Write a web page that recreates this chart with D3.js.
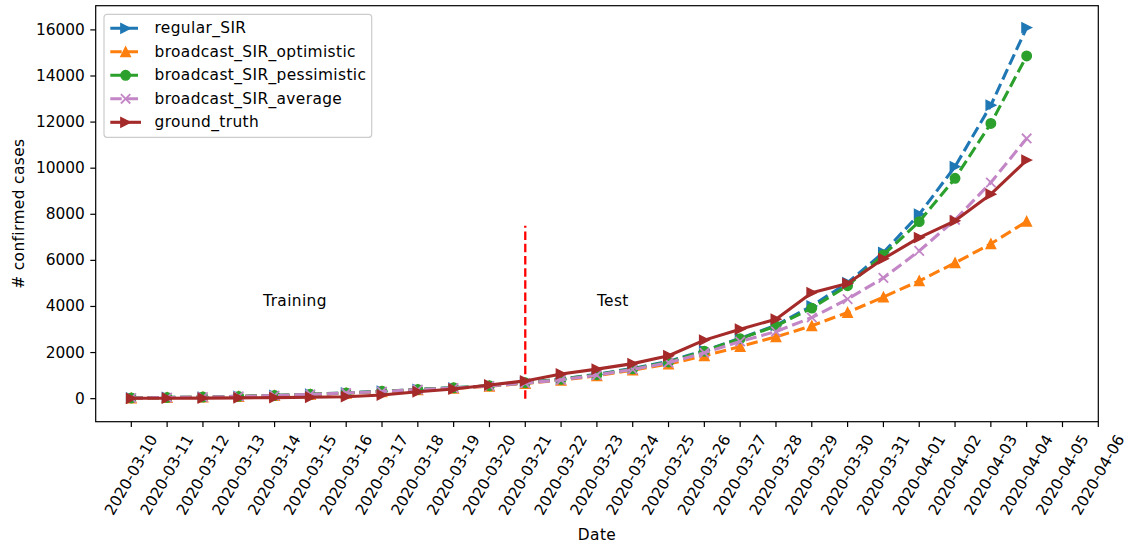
<!DOCTYPE html>
<html>
<head>
<meta charset="utf-8">
<script src="https://cdn.jsdelivr.net/npm/d3@7"></script>
<style>
  html, body { margin: 0; padding: 0; background: #fff; }
  svg { display: block; font-family: "DejaVu Sans", sans-serif; }
</style>
</head>
<body>
<svg id="chart" width="1128" height="544"></svg>
<script>
// ---- data ----
const tickDates = ["2020-03-10","2020-03-11","2020-03-12","2020-03-13","2020-03-14","2020-03-15","2020-03-16","2020-03-17","2020-03-18","2020-03-19","2020-03-20","2020-03-21","2020-03-22","2020-03-23","2020-03-24","2020-03-25","2020-03-26","2020-03-27","2020-03-28","2020-03-29","2020-03-30","2020-03-31","2020-04-01","2020-04-02","2020-04-03","2020-04-04","2020-04-05","2020-04-06"];
const dataDates = tickDates.slice(0, 26);
const yTicks = [0, 2000, 4000, 6000, 8000, 10000, 12000, 14000, 16000];

const regularSIR     = [30, 50, 70, 100, 140, 190, 250, 320, 400, 470, 560, 690, 850, 1060, 1310, 1620, 2080, 2620, 3180, 4020, 5030, 6340, 8000, 10070, 12730, 16100];
const bcOptimistic   = [25, 45, 65, 95, 130, 180, 235, 300, 380, 450, 540, 660, 800, 990, 1240, 1500, 1860, 2260, 2680, 3160, 3740, 4410, 5110, 5890, 6720, 7690];
const bcPessimistic  = [30, 50, 70, 100, 140, 190, 250, 320, 400, 470, 560, 690, 840, 1040, 1290, 1590, 2060, 2600, 3150, 3930, 4900, 6240, 7680, 9560, 11940, 14870];
const bcAverage      = [28, 48, 68, 98, 135, 185, 245, 310, 390, 460, 550, 675, 815, 1020, 1270, 1560, 1990, 2480, 2910, 3520, 4320, 5240, 6410, 7760, 9380, 11290];
const groundTruth    = [15, 20, 25, 35, 45, 60, 85, 160, 300, 420, 595, 770, 1070, 1280, 1520, 1860, 2540, 3015, 3450, 4600, 5000, 6070, 6990, 7715, 8870, 10350];

const seriesNames  = ["regular_SIR", "broadcast_SIR_optimistic", "broadcast_SIR_pessimistic", "broadcast_SIR_average", "ground_truth"];
const seriesValues = [regularSIR, bcOptimistic, bcPessimistic, bcAverage, groundTruth];
const seriesColors = ["#1f77b4", "#ff7f0e", "#2ca02c", "#c386c6", "#a52a2a"];
const seriesMarker = [">", "^", "o", "x", ">"];
const seriesDashed = [true, true, true, true, false];

const splitDate = "2020-03-21";
const splitTop = 7500;
const annotations = [{text: "Training", idx: 3.68, v: 4000}, {text: "Test", idx: 13.0, v: 4000}];

// ---- layout ----
const FS = 15.4;
const LS = "0.38px";
const svg = d3.select("#chart");
const L = 95.7, R = 1098.3, T = 5.7, B = 421.7;
const x = d3.scaleLinear().domain([-1, 27]).range([L - 0.2, R]);
const y = d3.scaleLinear().domain([-1000, 17050]).range([B, T]);
const xi = d => tickDates.indexOf(d);

svg.append("rect").attr("width", 1128).attr("height", 544).attr("fill", "#fff");

svg.append("clipPath").attr("id", "clip").append("rect")
  .attr("x", L).attr("y", T).attr("width", R - L).attr("height", B - T);

const plot = svg.append("g").attr("clip-path", "url(#clip)");

// split line
const sx = x(xi(splitDate));
plot.append("line").attr("x1", sx).attr("x2", sx).attr("y1", y(0)).attr("y2", y(splitTop))
  .attr("stroke", "#ff0000").attr("stroke-width", 2.3).attr("stroke-dasharray", "8.5,3.7");

function markerPath(type, s) {
  const h = s / 2;
  if (type === ">") return `M${h},0L${-h},${-h}L${-h},${h}Z`;
  if (type === "^") return `M0,${-h}L${h},${h}L${-h},${h}Z`;
  if (type === "x") return `M${-h},${-h}L${h},${h}M${-h},${h}L${h},${-h}`;
  return null;
}
function drawMarker(g, type, color, cx, cy) {
  const s = 9.4;
  if (type === "o") {
    g.append("circle").attr("cx", cx).attr("cy", cy).attr("r", s / 2)
      .attr("fill", color).attr("stroke", color).attr("stroke-width", 1.5);
  } else if (type === "x") {
    g.append("path").attr("d", markerPath(type, s)).attr("transform", `translate(${cx},${cy})`)
      .attr("fill", "none").attr("stroke", color).attr("stroke-width", 1.8);
  } else {
    g.append("path").attr("d", markerPath(type, s)).attr("transform", `translate(${cx},${cy})`)
      .attr("fill", color).attr("stroke", color).attr("stroke-width", 1.5).attr("stroke-linejoin", "miter");
  }
}

const line = d3.line().x((d, i) => x(xi(dataDates[i]))).y(d => y(d));
seriesValues.forEach((vals, k) => {
  const g = plot.append("g");
  g.append("path").datum(vals).attr("d", line)
    .attr("fill", "none").attr("stroke", seriesColors[k]).attr("stroke-width", 3.1)
    .attr("stroke-dasharray", seriesDashed[k] ? "11.4,4.9" : null)
    .attr("stroke-linejoin", "round");
  vals.forEach((v, i) => drawMarker(g, seriesMarker[k], seriesColors[k], x(xi(dataDates[i])), y(v)));
});

// annotations
annotations.forEach(a => {
  svg.append("text").attr("x", x(a.idx)).attr("y", y(a.v)).attr("font-size", FS)
    .attr("letter-spacing", LS).attr("fill", "#000").text(a.text);
});

// frame
svg.append("rect").attr("x", L).attr("y", T).attr("width", R - L).attr("height", B - T)
  .attr("fill", "none").attr("stroke", "#000").attr("stroke-width", 1.2);

// y axis
const TL = 5.4, PAD = 5.4;
yTicks.forEach(t => {
  const yy = y(t);
  svg.append("line").attr("x1", L - TL).attr("x2", L).attr("y1", yy).attr("y2", yy)
    .attr("stroke", "#000").attr("stroke-width", 1.2);
  svg.append("text").attr("x", L - TL - PAD).attr("y", yy).attr("text-anchor", "end")
    .attr("dominant-baseline", "central").attr("font-size", FS).attr("fill", "#000").text(d3.format("d")(t));
});

// x axis
const sin60 = Math.sin(Math.PI / 3), cos60 = 0.5;
tickDates.forEach((d, i) => {
  const xx = x(i);
  svg.append("line").attr("x1", xx).attr("x2", xx).attr("y1", B).attr("y2", B + TL)
    .attr("stroke", "#000").attr("stroke-width", 1.2);
  const t = svg.append("text").attr("font-size", FS).attr("fill", "#000")
    .attr("text-anchor", "middle").attr("dominant-baseline", "central").text(d);
  const w = t.node().getComputedTextLength();
  const h = FS * 1.0;
  const H = w * sin60 + h * cos60;
  const cy = B + TL + PAD + H / 2;
  t.attr("x", xx).attr("y", cy).attr("transform", `rotate(-60,${xx},${cy})`);
});

// axis labels
svg.append("text").attr("x", (L + R) / 2).attr("y", 540).attr("text-anchor", "middle")
  .attr("font-size", FS).attr("letter-spacing", LS).attr("fill", "#000").text("Date");
svg.append("text").attr("transform", `translate(24,${(T + B) / 2}) rotate(-90)`)
  .attr("text-anchor", "middle").attr("font-size", FS).attr("letter-spacing", LS).attr("fill", "#000").text("# confirmed cases");

// legend
const lg = svg.append("g");
const lx = 104, ly = 14.3, lw = 267.7, lh = 123;
lg.append("rect").attr("x", lx).attr("y", ly).attr("width", lw).attr("height", lh)
  .attr("rx", 3).attr("fill", "#fff").attr("fill-opacity", 0.8).attr("stroke", "#cccccc").attr("stroke-width", 1.2);
seriesNames.forEach((n, k) => {
  const ry = 28.3 + k * 23.5;
  lg.append("line").attr("x1", 110.3).attr("x2", 141).attr("y1", ry).attr("y2", ry)
    .attr("stroke", seriesColors[k]).attr("stroke-width", 3.1)
    .attr("stroke-dasharray", seriesDashed[k] ? "11.4,4.9" : null);
  drawMarker(lg, seriesMarker[k], seriesColors[k], 125.6, ry);
  lg.append("text").attr("x", 154.5).attr("y", ry).attr("dominant-baseline", "central")
    .attr("font-size", FS).attr("letter-spacing", LS).attr("fill", "#000").text(n);
});
</script>
</body>
</html>
